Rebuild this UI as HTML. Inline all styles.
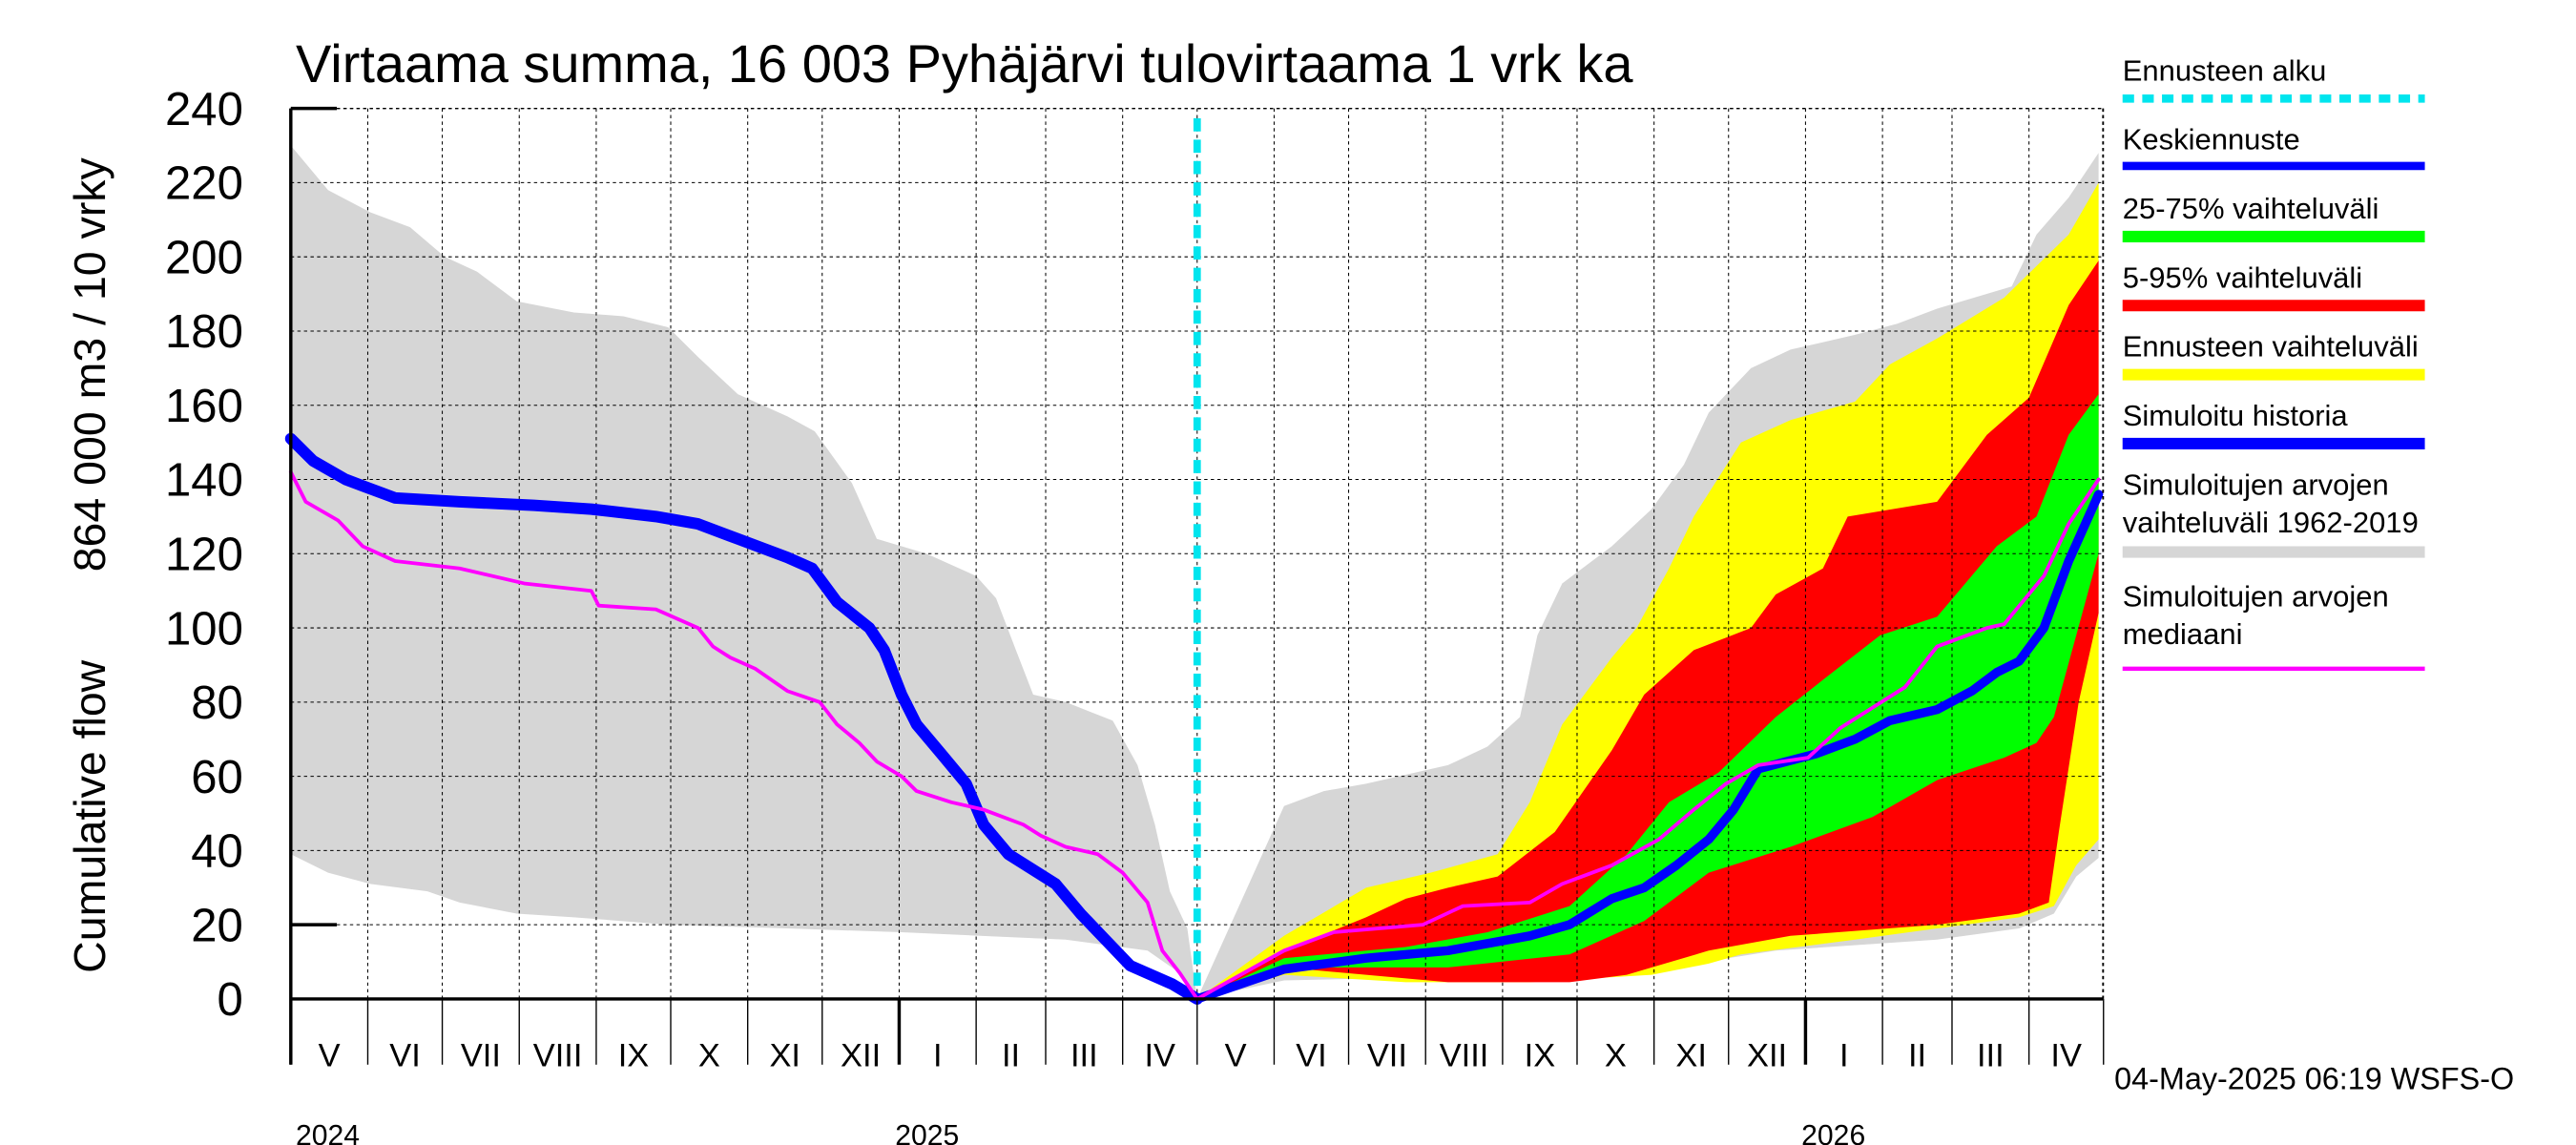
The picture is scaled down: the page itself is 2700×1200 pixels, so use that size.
<!DOCTYPE html>
<html><head><meta charset="utf-8"><style>
html,body{margin:0;padding:0;background:#fff}
svg{display:block}
text{font-family:"Liberation Sans",Arial,sans-serif;fill:#000}
</style></head><body>
<svg id="chart" width="2700" height="1200" viewBox="0 0 1568 696.9" xmlns="http://www.w3.org/2000/svg">
<g id="bands"></g><g id="grid"></g><g id="lines"></g><g id="axes"></g><g id="legend"></g>
</svg>
<script>
// ---- data (x = days since 2024-05-01, values in 864 000 m3 / 10 vrky) ----
const histUpperDays=[0,15,32,48,62,75,91,114,134,152,164,180,200,211,226,236,256,276,284,292,299,312,331,341,348,354,361,365];
const histUpperVals=[230,218,212,208,200,196,188,185,184,181,173,163,157,153,139,124,120,114,108,94,82,80,75,63,47,29,19,0];
const histLowerDays=[0,15,32,55,68,91,114,152,200,246,312,345,358,365];
const histLowerVals=[39,34,31,29,26,23,22,20,19,18,16,13,7,0];
const simHistDays=[0,9,22,42,68,98,121,147,164,180,200,210,220,233,239,246,252,262,272,279,289,308,318,328,338,355,365];
const simHistVals=[151,145,140,135,134,133,132,130,128,124,119,116,107,100,94,82,74,66,58,47,39,31,23,16,9,4,0];
const medHistDays=[0,6,19,29,42,68,94,121,124,147,164,170,177,187,200,213,220,229,236,246,252,266,279,295,302,312,325,335,345,351,358,365];
const medHistVals=[142,134,129,122,118,116,112,110,106,105,100,95,92,89,83,80,74,69,64,60,56,53,51,47,44,41,39,34,26,13,7,0];
// forecast period
const greyUpDays=[365,400,416,433,466,482,495,502,512,532,548,561,571,588,604,630,647,663,693,703,716,728];
const greyUpVals=[0,52,56,58,63,68,76,98,112,122,132,144,158,170,175,179,182,186,192,206,216,228];
const greyLoDays=[365,400,466,532,565,598,663,696,710,719,728];
const greyLoVals=[0,5,6,7.5,9.5,13,16,19,23,33,38];
const yelUpDays=[365,400,433,459,486,499,512,532,542,555,565,584,604,630,644,663,690,716,728];
const yelUpVals=[0,17,30,34,39,53,74,92,100,116,130,150,156,161,171,178,189,206,220];
const yelLoDays=[365,400,449,499,548,571,584,630,663,696,710,719,728];
const yelLoVals=[0,6.5,4.5,4.5,6.5,9.5,12,16,19,22,25,36,43];
const redUpDays=[365,400,433,449,466,486,509,532,545,565,588,598,617,627,663,683,700,716,728];
const redUpVals=[0,13,22,27,30,33,45,67,82,94,100,109,116,130,134,152,162,187,199];
const redLoDays=[365,400,433,466,515,538,571,604,663,696,708,712,720,728];
const redLoVals=[0,8.5,6.5,4.5,4.5,6.5,13,17,20,23,26,45,80,104];
const grnUpDays=[365,400,449,482,515,538,555,575,598,617,640,663,687,703,716,728];
const grnUpVals=[0,11,14,18,25,39,53,61,76,86,98,103,122,130,152,163];
const grnLoDays=[365,400,466,515,545,571,604,637,663,690,703,710,719,728];
const grnLoVals=[0,8.5,8.5,12,21,34,41,49,59,65,69,76,98,120];
const meanDays=[365,400,433,466,499,515,532,545,558,571,581,591,614,630,644,663,677,687,696,706,716,728];
const meanVals=[0,8,11,13,17,20,27,30,36,43,51,62,66,70,75,78,83,88,91,100,118,136];
const medFcDays=[365,400,420,456,472,499,512,532,551,565,578,591,611,624,650,663,683,690,706,716,728];
const medFcVals=[0,13,18,20,25,26,31,36,43,51,58,63,65,73,84,95,100,101,114,128,140];
const yTicks=[0,20,40,60,80,100,120,140,160,180,200,220,240];
const monthLabels=["V","VI","VII","VIII","IX","X","XI","XII","I","II","III","IV","V","VI","VII","VIII","IX","X","XI","XII","I","II","III","IV"];
const monthStartDays=[0,31,61,92,123,153,184,214,245,276,304,335,365,396,426,457,488,518,549,579,610,641,669,700,730];
const yearLabels=["2024","2025","2026"];
const yearDays=[0,245,610];
const forecastStartDay=365;

// ---- axes functions ----
const X0=177,X1=1280,Y0=608,Y1=66;
const xs=d=>X0+d*1.5115;
const ys=v=>Y0-(v/240)*(Y0-Y1);
const NS="http://www.w3.org/2000/svg";
function mk(tag,attrs,parent){const e=document.createElementNS(NS,tag);for(const k in attrs)e.setAttribute(k,attrs[k]);parent.appendChild(e);return e;}
const gB=document.getElementById('bands'),gG=document.getElementById('grid'),gL=document.getElementById('lines'),gA=document.getElementById('axes'),gLe=document.getElementById('legend');
function band(ud,uv,ld,lv,color,name){
  let p=ud.map((d,i)=>xs(d).toFixed(1)+','+ys(uv[i]).toFixed(1));
  for(let i=ld.length-1;i>=0;i--)p.push(xs(ld[i]).toFixed(1)+','+ys(lv[i]).toFixed(1));
  const e=mk('polygon',{points:p.join(' '),fill:color},gB);
  
  
}
function line(ds,vs,color,w,name){
  const e=mk('polyline',{points:ds.map((d,i)=>xs(d).toFixed(1)+','+ys(vs[i]).toFixed(1)).join(' '),fill:'none',stroke:color,'stroke-width':w,'stroke-linejoin':'round','stroke-linecap':'round'},gL);
  
  
}
band(histUpperDays,histUpperVals,histLowerDays,histLowerVals,'#d6d6d6','historical-range-band-past');
band(greyUpDays,greyUpVals,greyLoDays,greyLoVals,'#d6d6d6','historical-range-band-forecast');
band(yelUpDays,yelUpVals,yelLoDays,yelLoVals,'#ffff00','forecast-range-band');
band(redUpDays,redUpVals,redLoDays,redLoVals,'#ff0000','band-5-95');
band(grnUpDays,grnUpVals,grnLoDays,grnLoVals,'#00ff00','band-25-75');

// grid
yTicks.forEach(v=>{
  if(v>0){const e=mk('line',{x1:X0,x2:X1,y1:ys(v),y2:ys(v),stroke:'#000','stroke-width':0.6,'stroke-dasharray':'2,2'},gG);
  
  }
  const t=mk('text',{x:148,y:ys(v)+10,'font-size':28.5,'text-anchor':'end'},gA);t.textContent=v;
  
  
});
monthStartDays.forEach((d,i)=>{
  if(i>0){const e=mk('line',{x1:xs(d),x2:xs(d),y1:Y1,y2:Y0,stroke:'#000','stroke-width':0.6,'stroke-dasharray':'2,2'},gG);
  
  }
  const yr=yearDays.includes(d);
  const t=mk('line',{x1:xs(d),x2:xs(d),y1:Y0,y2:648,stroke:'#000','stroke-width':yr&&d>0?2:0.8},gA);
  
  
  if(i<monthLabels.length){
    const lx=(xs(d)+xs(monthStartDays[i+1]))/2;
    const l=mk('text',{x:lx,y:649,'font-size':20,'text-anchor':'middle'},gA);l.textContent=monthLabels[i];
    
    
  }
});
yearLabels.forEach((y,i)=>{
  const t=mk('text',{x:xs(yearDays[i])+(i==0?3:0),y:697,'font-size':17.5,'text-anchor':i==0?'start':'middle'},gA);t.textContent=y;
  if(i>0)t.setAttribute('x',xs(yearDays[i])+17);
  
  
});
// frame
let f=mk('line',{x1:X0,x2:X1,y1:Y1,y2:Y1,stroke:'#000','stroke-width':0.8,'stroke-dasharray':'2,2'},gA);
f=mk('line',{x1:X1,x2:X1,y1:Y1,y2:Y0,stroke:'#000','stroke-width':0.8,'stroke-dasharray':'2,2'},gA);
f=mk('line',{x1:X0,x2:X0,y1:Y1,y2:648,stroke:'#000','stroke-width':2},gA);
f=mk('line',{x1:X0,x2:X1,y1:Y0,y2:Y0,stroke:'#000','stroke-width':2},gA);
[240,20].forEach(v=>{const e=mk('line',{x1:X0,x2:X0+28,y1:ys(v),y2:ys(v),stroke:'#000','stroke-width':2},gA);});

// lines
line(simHistDays,simHistVals,'#0000ff',7,'simulated-history-line');
line(meanDays,meanVals,'#0000ff',5.5,'mean-forecast-line');
line(medHistDays,medHistVals,'#ff00ff',2.2,'median-line-past');
line(medFcDays,medFcVals,'#ff00ff',2.2,'median-line-forecast');
f=mk('line',{x1:xs(forecastStartDay),x2:xs(forecastStartDay),y1:72,y2:604,stroke:'#00e5ee','stroke-width':4.5,'stroke-dasharray':'8,5'},gL);


// texts
f=mk('text',{x:180,y:50,'font-size':32.5},gA);f.textContent='Virtaama summa, 16 003 Pyhäjärvi tulovirtaama 1 vrk ka';

f=mk('text',{x:0,y:0,'font-size':27,'text-anchor':'middle',transform:'translate(64,497) rotate(-90)'},gA);f.textContent='Cumulative flow';

f=mk('text',{x:0,y:0,'font-size':27,'text-anchor':'middle',transform:'translate(64,222) rotate(-90)'},gA);f.textContent='864 000 m3 / 10 vrky';

f=mk('text',{x:1287,y:663,'font-size':18.8},gA);f.textContent='04-May-2025 06:19 WSFS-O';


// legend
const legTexts=[["Ennusteen alku"],["Keskiennuste"],["25-75% vaihteluväli"],["5-95% vaihteluväli"],["Ennusteen vaihteluväli"],["Simuloitu historia"],["Simuloitujen arvojen","vaihteluväli 1962-2019"],["Simuloitujen arvojen","mediaani"]];
const legColors=['#00e5ee','#0000ff','#00ff00','#ff0000','#ffff00','#0000ff','#d6d6d6','#ff00ff'];
const legTextY=[49,91,133,175,217,259,301,369];
const legLineY=[60,101,144,186,228,270,336,407];
const legW=[5,5,7,7,7,7,7,2.5];
legTexts.forEach((ls,i)=>{
  const g=mk('g',{},gLe);
  
  
  ls.forEach((s,j)=>{const t=mk('text',{x:1292,y:legTextY[i]+j*23,'font-size':18},g);t.textContent=s;});
  const a={x1:1292,x2:1476,y1:legLineY[i],y2:legLineY[i],stroke:legColors[i],'stroke-width':legW[i]};
  if(i==0)a['stroke-dasharray']='7,5';
  mk('line',a,g);
});
</script>
</body></html>
